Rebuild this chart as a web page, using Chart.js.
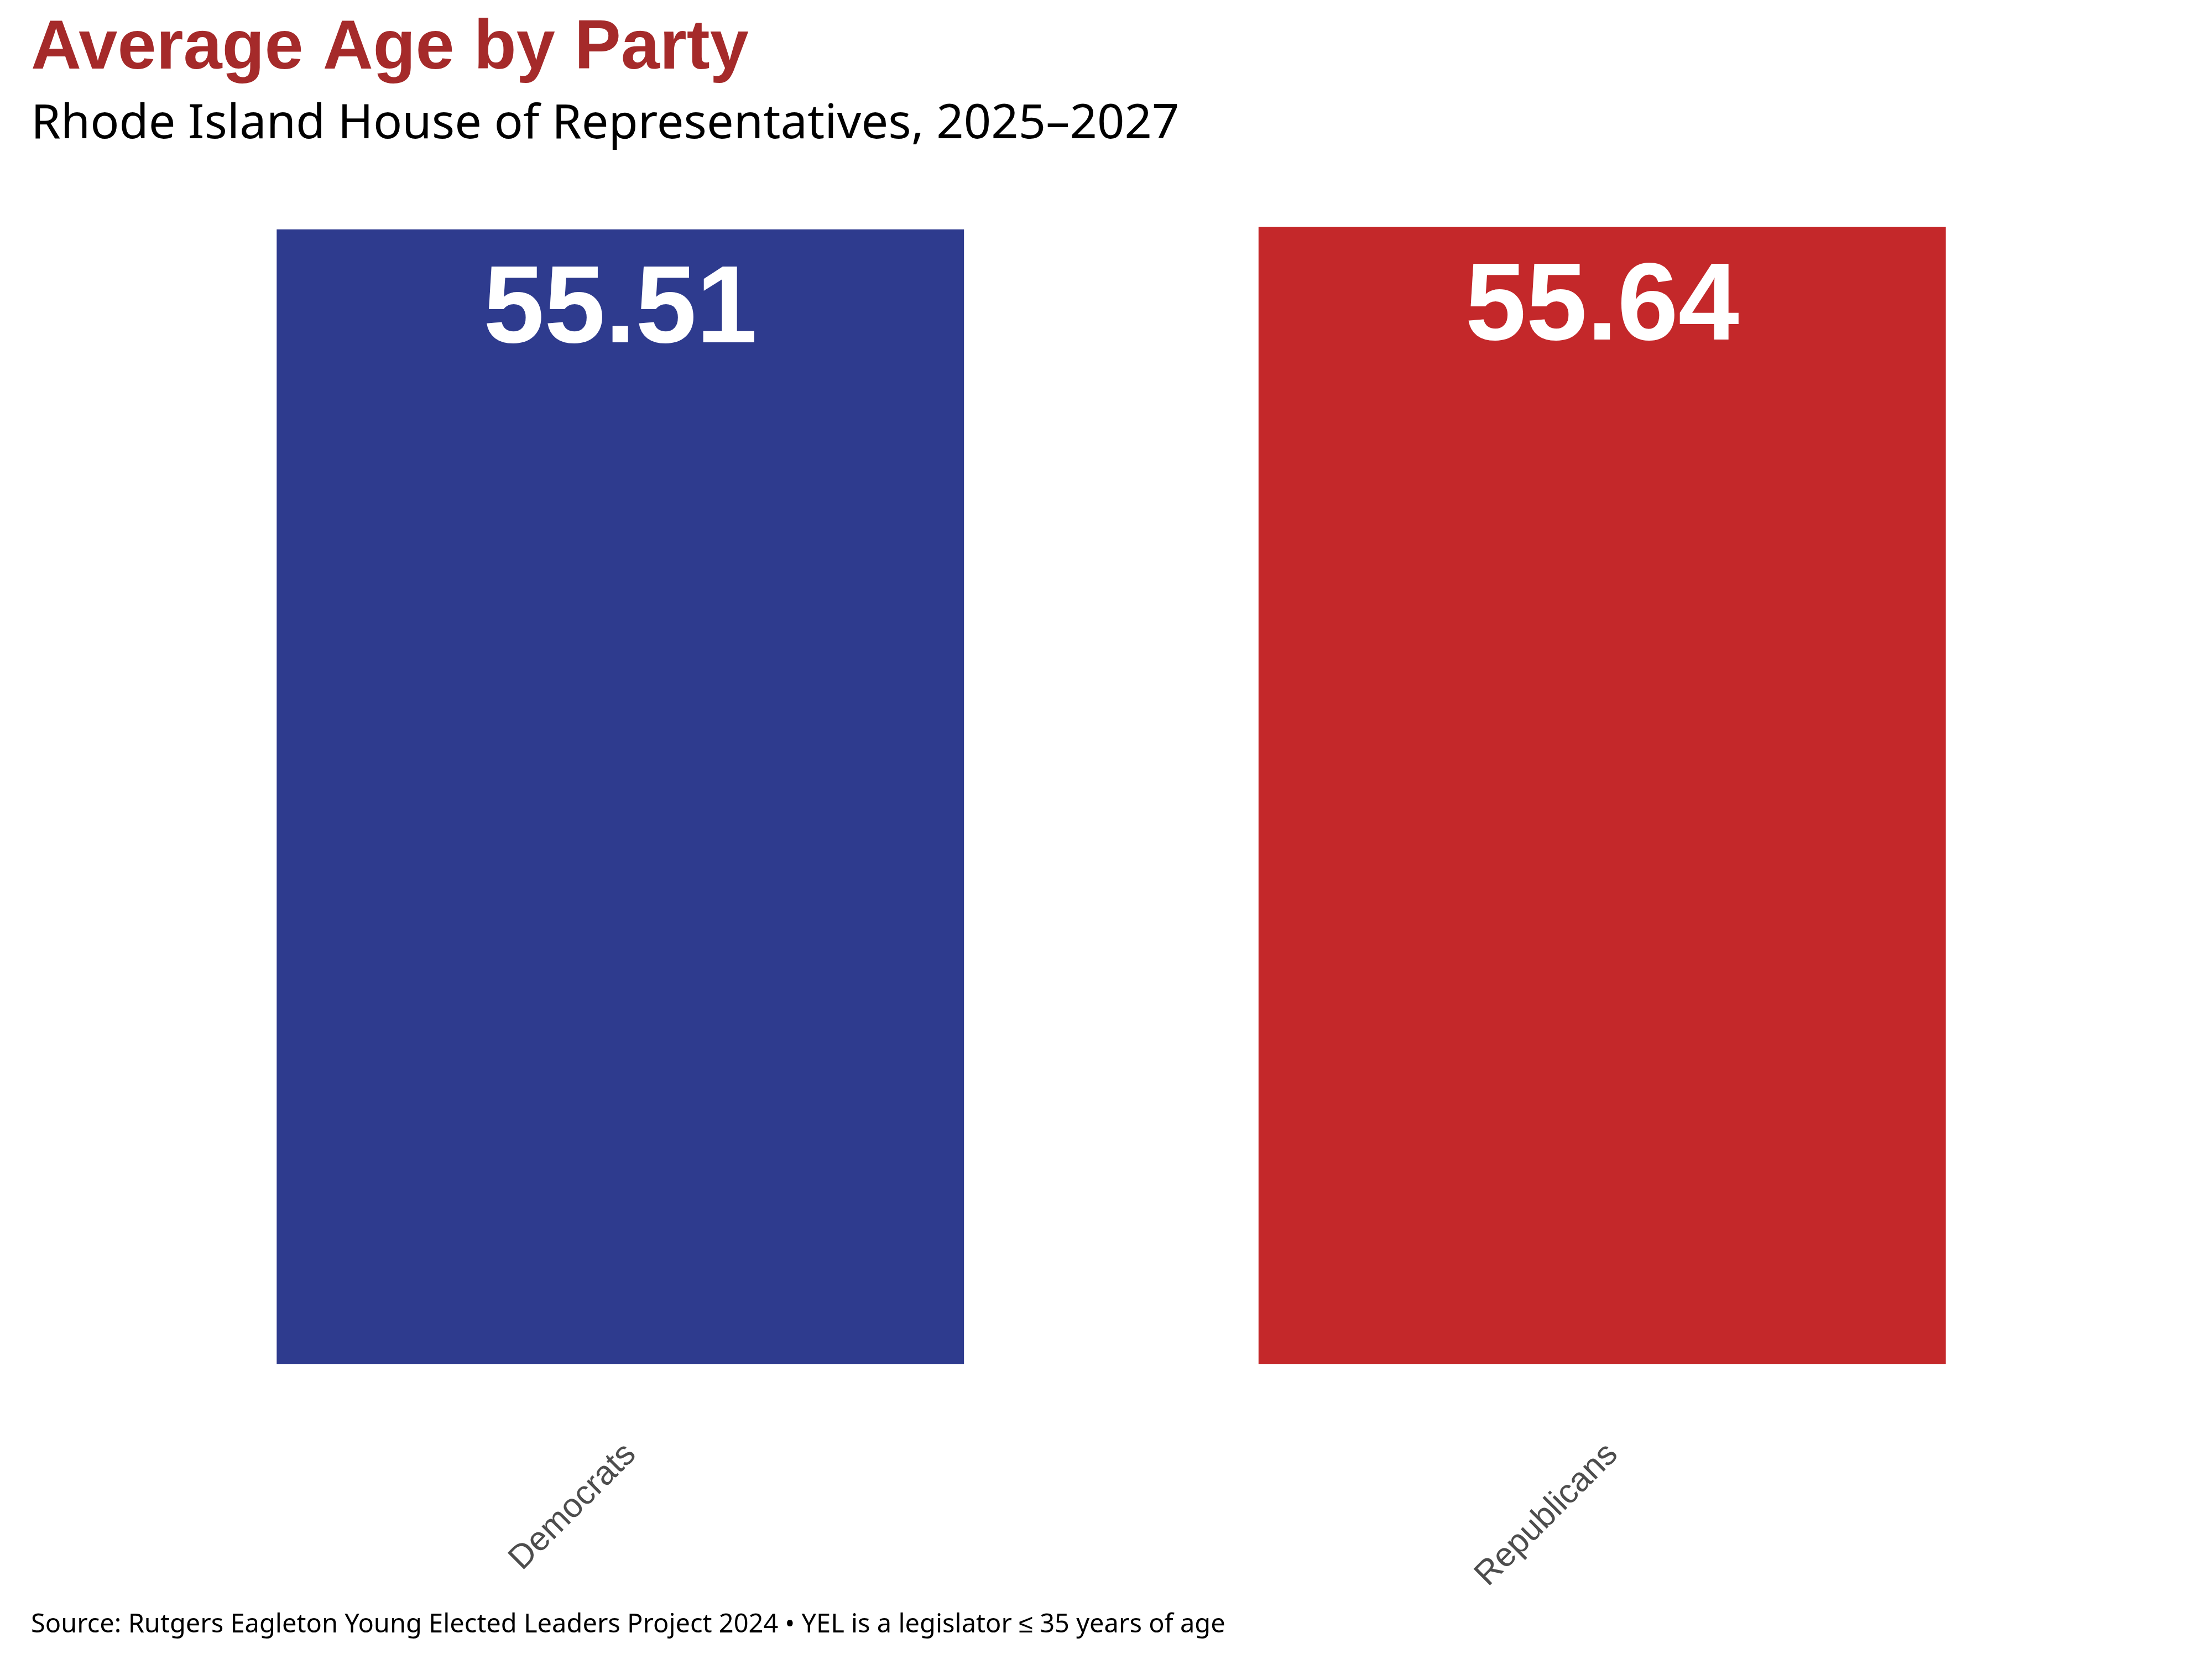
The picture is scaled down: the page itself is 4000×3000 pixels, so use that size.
<!DOCTYPE html>
<html>
<head>
<meta charset="utf-8">
<script src="https://cdn.jsdelivr.net/npm/chart.js@4"></script>
<style>
  body { margin: 0; background: #fff; }
  canvas { display: block; }
</style>
</head>
<body>
<canvas id="ageChart" width="4000" height="3000" style="width:4000px;height:3000px"></canvas>
<script>
const ageCanvas = document.querySelector("#ageChart");

/* Data Value */
const parties = ["Democrats", "Republicans"];
const averageAges = [55.51, 55.64];
const partyColors = ["#2E3B8E", "#C4282A"];

const sourceNote =
  "Source: Rutgers Eagleton Young Elected Leaders Project 2024 \u2022 YEL is a legislator \u2264 35 years of age";

/* value labels inside the bars */
const barValueLabels = {
  id: "barValueLabels",
  afterDatasetsDraw(chart) {
    const { ctx } = chart;
    const meta = chart.getDatasetMeta(0);
    ctx.save();
    ctx.fillStyle = "#FFFFFF";
    ctx.font = "bold 198px 'Liberation Sans', Arial, sans-serif";
    ctx.textAlign = "center";
    ctx.textBaseline = "alphabetic";
    meta.data.forEach((bar, i) => {
      ctx.fillText(averageAges[i].toFixed(2), bar.x, bar.y + 204);
    });
    ctx.restore();
  },
};

/* source line at the bottom */
const sourceCaption = {
  id: "sourceCaption",
  afterDraw(chart) {
    const { ctx } = chart;
    ctx.save();
    ctx.fillStyle = "#000000";
    ctx.font = "47px 'Noto Sans', sans-serif";
    ctx.textAlign = "left";
    ctx.textBaseline = "alphabetic";
    ctx.fillText(sourceNote, 56, 2952);
    ctx.restore();
  },
};

/* Chart */
const ageChart = new Chart(ageCanvas, {
  type: "bar",
  data: {
    labels: parties,
    datasets: [
      {
        data: averageAges,
        backgroundColor: partyColors,
        borderWidth: 0,
        barPercentage: 0.7,
        categoryPercentage: 1.0,
      },
    ],
  },
  options: {
    responsive: false,
    animation: false,
    devicePixelRatio: 1,
    layout: {
      padding: { top: 0, left: 56, right: 215, bottom: 0 },
    },
    scales: {
      x: {
        grid: { display: false, drawTicks: false },
        border: { display: false },
        ticks: {
          autoSkip: false,
          minRotation: 45,
          maxRotation: 45,
          padding: 128,
          labelOffset: 19,
          color: "#4D4D4D",
          font: { family: "'Liberation Sans', Arial, sans-serif", size: 61 },
        },
        afterFit(scale) {
          scale.height = 533;
        },
      },
      y: {
        min: 0,
        max: Math.max(...averageAges),
        grid: { display: false, drawTicks: false },
        border: { display: false },
        ticks: { display: false },
        afterFit(scale) {
          scale.width = 178;
        },
      },
    },
    plugins: {
      title: {
        display: true,
        text: "Average Age by Party",
        align: "start",
        color: "#A52A2A",
        font: { family: "'Liberation Sans', Arial, sans-serif", size: 126, weight: "bold", lineHeight: 1.2 },
        padding: { top: 14, bottom: 8 },
      },
      subtitle: {
        display: true,
        text: "Rhode Island House of Representatives, 2025\u20132027",
        align: "start",
        color: "#000000",
        font: { family: "'Noto Sans', sans-serif", size: 86.5, weight: "normal", lineHeight: 1.2 },
        padding: { top: 0, bottom: 133 },
      },
      legend: { display: false },
      tooltip: { enabled: false },
    },
  },
  plugins: [barValueLabels, sourceCaption],
});
</script>
</body>
</html>
